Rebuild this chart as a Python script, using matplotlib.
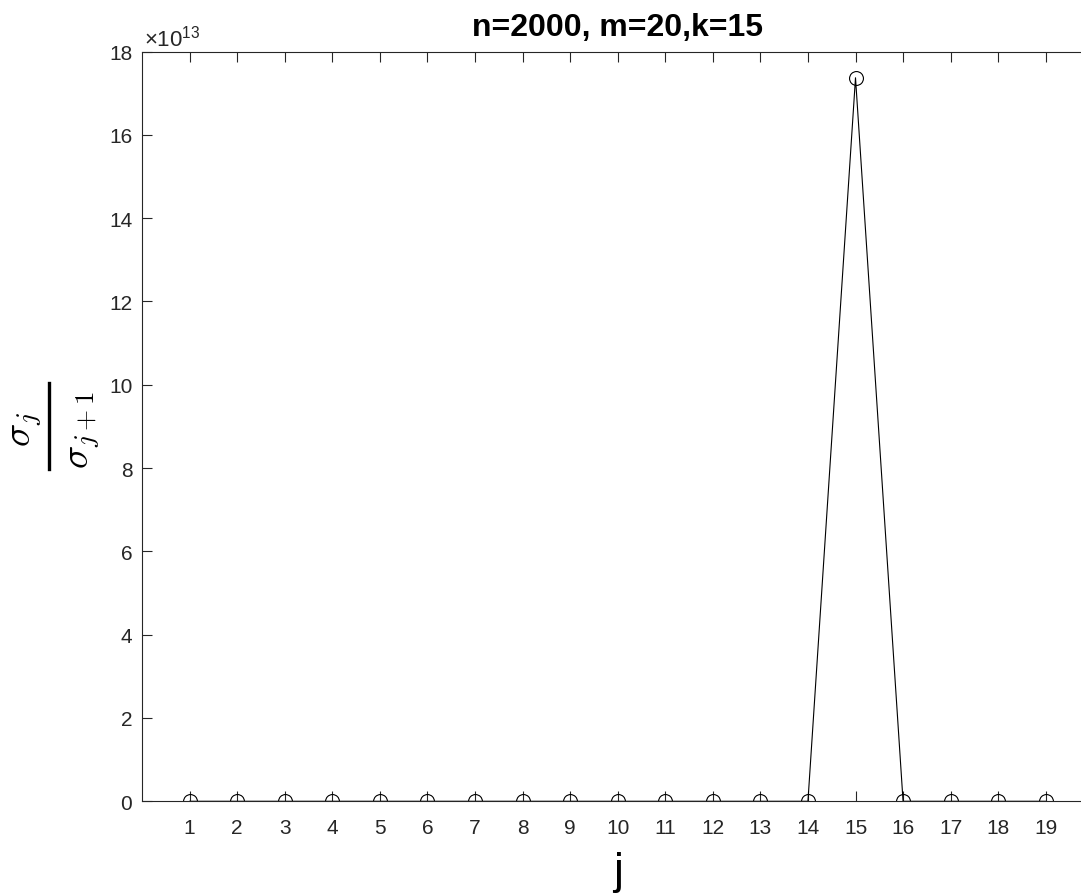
import numpy as np
import matplotlib
matplotlib.use("Agg")
from matplotlib import pyplot as plt
from matplotlib.ticker import FuncFormatter
from matplotlib.lines import Line2D
from matplotlib.transforms import offset_copy

plt.rcParams["font.family"] = ["Liberation Sans", "DejaVu Sans"]
plt.rcParams["mathtext.fontset"] = "cm"

# ratio sigma_j / sigma_{j+1}
j = [1, 2, 3, 4, 5, 6, 7, 8, 9, 10, 11, 12, 13, 14, 15, 16, 17, 18, 19]
ratio = [1.3, 1.2, 1.2, 1.1, 1.2, 1.1, 1.1, 1.2, 1.1, 1.1, 1.2, 1.1, 1.2, 1.3,
         1.737e14, 1.2, 1.1, 1.1, 1.2]
yticks = [0, 2e13, 4e13, 6e13, 8e13, 10e13, 12e13, 14e13, 16e13, 18e13]
scale = 1e13

W, H = 1081, 895
axcol = "#262626"
fig = plt.figure(figsize=(W / 100, H / 100), dpi=100)
ax = fig.add_axes([0.1314, 0.1036, 0.88, 0.8377])

ax.plot(j, ratio, color="black", linewidth=0.8, marker="o", markersize=10,
        markerfacecolor="none", markeredgewidth=0.8)

ax.set_xlim(0, 20)
ax.set_ylim(0, 1.8e14)
ax.set_xticks(j)
ax.set_yticks(yticks)
ax.yaxis.set_major_formatter(FuncFormatter(lambda v, p: "%g" % (v / scale)))
ax.text(0.0, 1.0, r"$\mathregular{\times10^{13}}$",
        transform=offset_copy(ax.transAxes, fig, x=2, y=6, units="dots"),
        fontsize=16, color=axcol, ha="left", va="baseline")

ax.tick_params(direction="in", length=7, width=0.8, colors=axcol, labelsize=15,
               top=True, right=False)
ax.tick_params(axis="x", pad=12)
ax.tick_params(axis="y", pad=7)
for s in ax.spines.values():
    s.set_color(axcol)
    s.set_linewidth(0.8)
ax.spines["right"].set_visible(False)

ax.set_title("n=2000, m=20,k=15", fontsize=23, fontweight="bold", pad=12)
ax.set_xlabel("j", fontsize=32, labelpad=10)

# y label: sigma_j / sigma_{j+1}, built as a stacked fraction
fig.text(26 / W, 1 - 429 / H, r"$\sigma_j$", fontsize=28, rotation=90,
         ha="center", va="center")
fig.add_artist(Line2D([48.5 / W, 48.5 / W], [1 - 384 / H, 1 - 470 / H],
                      transform=fig.transFigure, color="black", linewidth=2.4))
fig.text(84 / W, 1 - 430 / H, r"$\sigma_{j+1}$", fontsize=28, rotation=90,
         ha="center", va="center")

fig.savefig("out.png", dpi=100)
